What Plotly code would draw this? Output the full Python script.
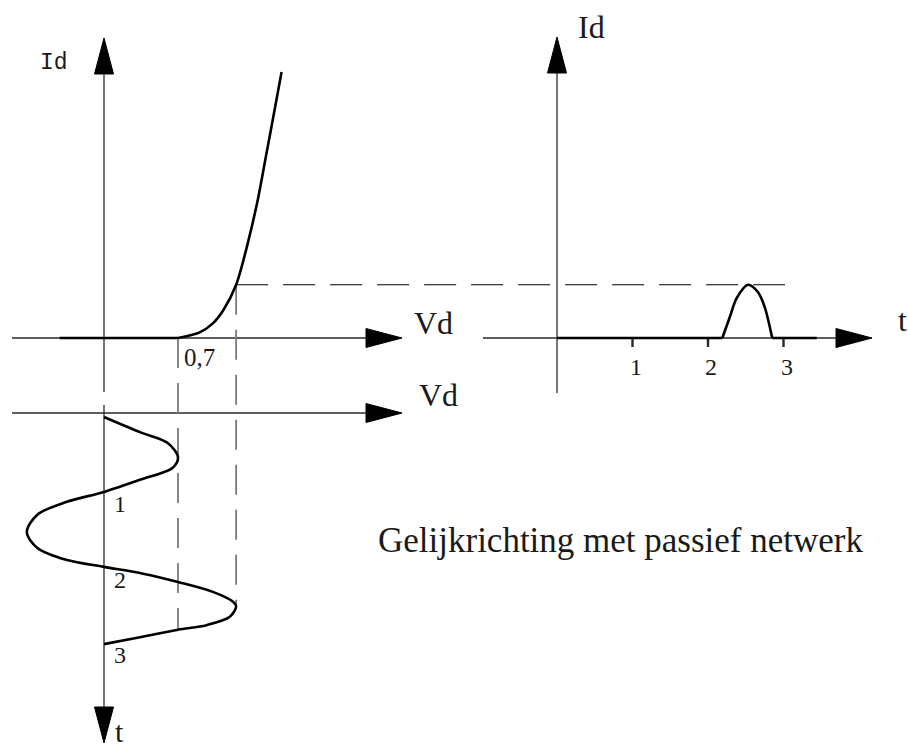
import plotly.graph_objects as go

# ---------------- data ----------------
# diode characteristic: forward voltage Vd (V) against current Id (mA)
vd_off = [-0.42, 0.70]
id_off = [0.0, 0.0]
vd_on = [0.70, 0.90, 1.03, 1.13, 1.25, 1.35, 1.45, 1.54, 1.62, 1.68]
id_on = [0.0, 0.2, 0.55, 1.05, 2.0, 3.4, 5.1, 7.0, 8.7, 10.0]
v_knee = 0.7          # threshold voltage
v_peak, i_peak = 1.25, 2.0

# applied voltage over time (time runs downward)
t_in = [0, 0.20, 0.34, 0.53, 0.67, 0.83, 0.99, 1.12, 1.29, 1.52, 1.73, 1.89,
        1.98, 2.07, 2.18, 2.31, 2.44, 2.50, 2.64, 2.75, 2.81, 2.91, 3.0]
v_in = [0, 0.34, 0.60, 0.70, 0.65, 0.34, 0, -0.35, -0.63, -0.73, -0.63, -0.35,
        0, 0.37, 0.70, 1.03, 1.22, 1.25, 1.19, 0.97, 0.70, 0.34, 0]
t_in_labels = [1, 2, 3]
t_cross_knee = 2.81   # where the last half wave drops below 0.7 V
t_at_peak = 2.50

# resulting diode current over time
t_out_a = [0, 2.19]
i_out_a = [0, 0]
t_out_pulse = [2.19, 2.29, 2.38, 2.53, 2.66, 2.75, 2.85]
i_out_pulse = [0, 0.8, 1.5, 2.0, 1.73, 1.17, 0]
t_out_b = [2.85, 3.44]
i_out_b = [0, 0]
t_ticks = [1, 2, 3]
t_tick_text = ["1", "2", "3"]

title_text = "Gelijkrichting met passief netwerk"

# ---------------- layout geometry ----------------
W, H = 908, 748
VD0, VD_S = 104, 105.7   # px of Vd = 0, px per volt
ID0, ID_S = 338, 26.6    # px of Id = 0, px per mA
T0, T_S = 557, 75.5      # px of t = 0 (right graph), px per unit
TS0, TS_S = 417, 75.7    # px of t = 0 (time axis under the diode graph)


def vd_at(px):
    return (px - VD0) / VD_S


def id_at(py):
    return (ID0 - py) / ID_S


def t_at(px):
    return (px - T0) / T_S


def ts_at(py):
    return (py - TS0) / TS_S


CURVE = dict(color="black", width=2.6)
AXIS = dict(color="#2a2a2a", width=1.3)
SERIF = "Liberation Serif"

fig = go.Figure()

fig.add_trace(go.Scatter(x=vd_off, y=id_off, mode="lines", line=CURVE,
                         xaxis="x", yaxis="y"))
fig.add_trace(go.Scatter(x=vd_on, y=id_on, mode="lines",
                         line=dict(CURVE, shape="spline", smoothing=0.8),
                         xaxis="x", yaxis="y"))
fig.add_trace(go.Scatter(x=v_in, y=t_in, mode="lines",
                         line=dict(CURVE, shape="spline", smoothing=0.9),
                         xaxis="x", yaxis="y2"))
fig.add_trace(go.Scatter(x=t_out_a, y=i_out_a, mode="lines", line=CURVE,
                         xaxis="x2", yaxis="y"))
fig.add_trace(go.Scatter(x=t_out_pulse, y=i_out_pulse, mode="lines",
                         line=dict(CURVE, shape="spline", smoothing=0.9),
                         xaxis="x2", yaxis="y"))
fig.add_trace(go.Scatter(x=t_out_b, y=i_out_b, mode="lines", line=CURVE,
                         xaxis="x2", yaxis="y"))

shapes = []


def line(xref, yref, x0, y0, x1, y1, **kw):
    shapes.append(dict(type="line", xref=xref, yref=yref, x0=x0, y0=y0,
                       x1=x1, y1=y1, line=kw.get("ln", AXIS), layer="below"))


def arrow(xref, yref, x, y, direction):
    paths = {
        "right": "M 0,0 L -36,9.5 L -36,-9.5 Z",
        "up": "M 0,0 L -9.5,-36 L 9.5,-36 Z",
        "down": "M 0,0 L -9.5,36 L 9.5,36 Z",
    }
    shapes.append(dict(type="path", xref=xref, yref=yref,
                       xsizemode="pixel", ysizemode="pixel",
                       xanchor=x, yanchor=y, path=paths[direction],
                       fillcolor="black", line=dict(color="black", width=1)))


# diode graph axes
line("x", "y", vd_at(12), 0, vd_at(370), 0)
arrow("x", "y", vd_at(402), 0, "right")
line("x", "y", 0, id_at(392), 0, id_at(70))
arrow("x", "y", 0, id_at(38), "up")

# time axis under the diode graph
line("x", "y2", vd_at(12), ts_at(413), vd_at(370), ts_at(413))
arrow("x", "y2", vd_at(402), ts_at(413), "right")
line("x", "y2", 0, ts_at(405), 0, ts_at(712))
arrow("x", "y2", 0, ts_at(743), "down")

# current-vs-time axes
line("x2", "y", t_at(483), 0, t_at(840), 0)
arrow("x2", "y", t_at(872), 0, "right")
line("x2", "y", 0, id_at(393), 0, id_at(70))
arrow("x2", "y", 0, id_at(37), "up")
for tk in t_ticks:
    line("x2", "y", tk, 0, tk, id_at(347), ln=dict(color="#2a2a2a", width=2.4))

# projection lines
DASH_V = dict(color="#7a7a7a", width=1.8, dash="30px,15px")
line("x", "y2", v_knee, ts_at(ID0), v_knee, t_cross_knee, ln=DASH_V)
line("x", "y2", v_peak, ts_at(ID0 - i_peak * ID_S), v_peak, t_at_peak, ln=DASH_V)
# horizontal projection of the peak current onto the time graph
x_end = vd_at(T0 + 3.02 * T_S)
line("x", "y", v_peak, i_peak, x_end, i_peak,
     ln=dict(color="black", width=1.1, dash="32px,15px"))

annotations = []


def text(xref, yref, x, y, s, size, family=SERIF, xanchor="center", xshift=0):
    annotations.append(dict(xref=xref, yref=yref, x=x, y=y, text=s,
                            showarrow=False, xanchor=xanchor, yanchor="middle",
                            xshift=xshift,
                            font=dict(family=family, size=size, color="#1a1a1a")))


text("x", "y", vd_at(54), id_at(63), "Id", 23, family="Liberation Mono")
text("x", "y", vd_at(412), id_at(323), "Vd", 32, xanchor="left")
text("x", "y", v_knee, id_at(357), "0,7", 25, xanchor="left", xshift=4)
text("x", "y2", vd_at(417), ts_at(395), "Vd", 32, xanchor="left")
text("x", "y2", vd_at(119), ts_at(731), "t", 30)
for tv in t_in_labels:
    text("x", "y2", vd_at(120), tv + 0.15, str(tv), 24)

text("x2", "y", t_at(591), id_at(27), "Id", 32)
text("x2", "y", t_at(902), id_at(320), "t", 32)
for tk, lab in zip(t_ticks, t_tick_text):
    text("x2", "y", tk, id_at(367), lab, 24, xshift=3)

annotations.append(dict(xref="paper", yref="paper", x=620 / W, y=1 - 540 / H,
                        text=title_text, showarrow=False,
                        xanchor="center", yanchor="middle",
                        font=dict(family=SERIF, size=35, color="#1a1a1a")))

hidden = dict(visible=False, showgrid=False, zeroline=False, fixedrange=True)
fig.update_layout(
    width=W, height=H, autosize=False,
    margin=dict(l=0, r=0, t=0, b=0, pad=0),
    paper_bgcolor="white", plot_bgcolor="white",
    showlegend=False,
    xaxis=dict(hidden, range=[vd_at(0), vd_at(W)], domain=[0, 1]),
    yaxis=dict(hidden, range=[id_at(H), id_at(0)], domain=[0, 1]),
    xaxis2=dict(hidden, range=[t_at(0), t_at(W)], domain=[0, 1],
                overlaying="x", anchor="y"),
    yaxis2=dict(hidden, range=[ts_at(H), ts_at(0)], domain=[0, 1],
                overlaying="y", anchor="x"),
    shapes=shapes,
    annotations=annotations,
    hovermode=False,
)

fig.write_html("out.html", config={"displayModeBar": False})
